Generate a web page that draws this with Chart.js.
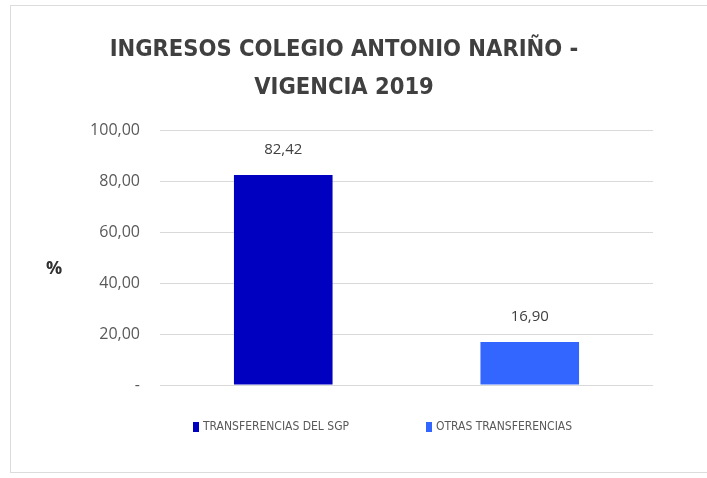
<!DOCTYPE html>
<html lang="es">
<head>
<meta charset="utf-8">
<title>Ingresos Colegio Antonio Nariño - Vigencia 2019</title>
<script src="https://cdn.jsdelivr.net/npm/chart.js@4"></script>
<style>
  body { margin: 0; background: #fff; }
  #marco { position: absolute; left: 10px; top: 5px; width: 720px; height: 466px; border: 1px solid #dcdcdc; }
  #contenedor { position: absolute; left: 0; top: 0; width: 707px; height: 478px; }
</style>
</head>
<body>
<div id="marco"></div>
<div id="contenedor"><canvas id="ingresos" width="707" height="478"></canvas></div>
<script>
// datos del grafico
const titulo = ['INGRESOS COLEGIO ANTONIO NARIÑO -', 'VIGENCIA 2019']
const categorias = ['TRANSFERENCIAS DEL SGP', 'OTRAS TRANSFERENCIAS']
const porcentajes = [82.42, 16.90]
const colores = ['#0000C0', '#3366FF']
const etiquetasY = ['-', '20,00', '40,00', '60,00', '80,00', '100,00']

// formato con coma decimal
function formato(valor) {
    return valor.toFixed(2).replace('.', ',')
}

// valores encima de cada barra
const etiquetasBarras = {
    id: 'etiquetasBarras',
    afterDatasetsDraw(chart) {
        const ctx = chart.ctx
        const barras = chart.getDatasetMeta(0).data
        ctx.save()
        ctx.font = '15px "Open Sans"'
        ctx.fillStyle = '#404040'
        ctx.textAlign = 'center'
        ctx.textBaseline = 'middle'
        barras.forEach(function (barra, i) {
            ctx.fillText(formato(porcentajes[i]), barra.x, barra.y - 25)
        })
        ctx.restore()
    }
}

// simbolo % horizontal y leyenda inferior
const extras = {
    id: 'extras',
    afterDraw(chart) {
        const ctx = chart.ctx, area = chart.chartArea
        ctx.save()
        ctx.font = 'bold 18px "Open Sans"'
        ctx.fillStyle = '#303030'
        ctx.textAlign = 'center'
        ctx.textBaseline = 'middle'
        ctx.fillText('%', area.left - 106, area.top + 139)

        ctx.font = '12px "DejaVu Sans Condensed", sans-serif'
        ctx.textAlign = 'left'
        const y = area.bottom + 42
        const posiciones = [33, 266]
        categorias.forEach(function (cat, i) {
            const x = area.left + posiciones[i]
            ctx.fillStyle = colores[i]
            ctx.fillRect(x, y - 5, 6, 10)
            ctx.fillStyle = '#595959'
            ctx.fillText(cat, x + 10, y)
        })
        ctx.restore()
    }
}

const INGRESOS = document.getElementById('ingresos')

new Chart(INGRESOS, {
    type: 'bar',
    data: {
        labels: categorias,
        datasets: [{
            data: porcentajes,
            backgroundColor: colores,
            categoryPercentage: 1,
            barPercentage: 0.4
        }]
    },
    options: {
        responsive: false,
        animation: false,
        layout: {
            padding: { left: 35, right: 54, top: 0, bottom: 93 }
        },
        plugins: {
            legend: { display: false },
            tooltip: { enabled: false },
            title: {
                display: true,
                text: titulo,
                color: '#404040',
                font: { family: '"DejaVu Sans Condensed", sans-serif', size: 23.5, weight: 'bold', lineHeight: 1.6 },
                padding: { top: 31, bottom: 24 }
            }
        },
        scales: {
            x: { display: false },
            y: {
                min: 0,
                max: 100,
                afterFit: function (scale) { scale.width = 125 },
                ticks: {
                    stepSize: 20,
                    padding: 20,
                    color: '#595959',
                    font: { family: '"Open Sans"', size: 16 },
                    callback: function (valor, i) { return etiquetasY[i] }
                },
                grid: { color: '#d9d9d9', drawTicks: false },
                border: { display: false }
            }
        }
    },
    plugins: [etiquetasBarras, extras]
})
</script>
</body>
</html>
